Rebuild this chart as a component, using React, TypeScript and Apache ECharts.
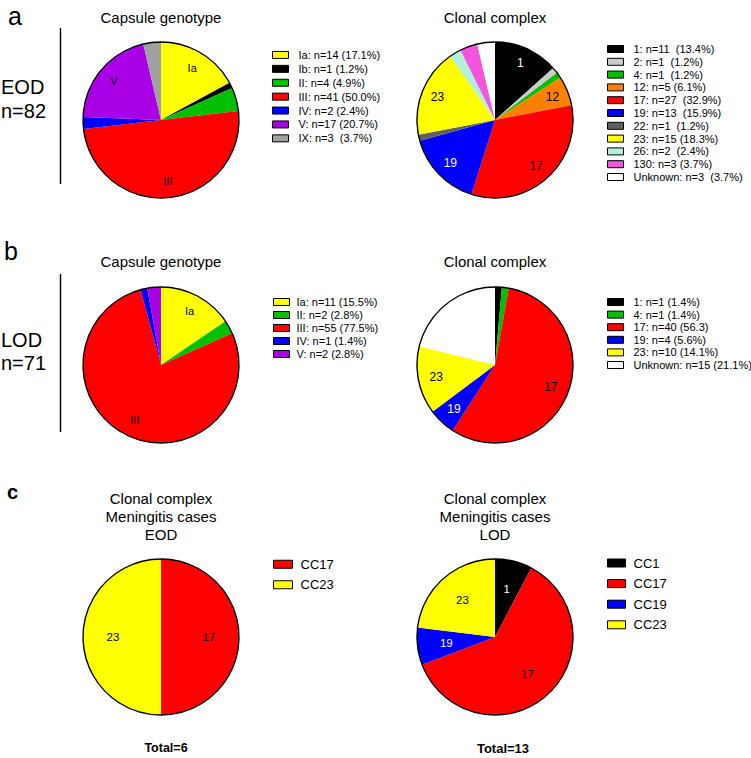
import React, { useEffect, useRef } from "react";
import * as echarts from "echarts";

// ---------- Data ----------
// Panel a: EOD (n=82)
const eodGenotypeLegend = ["Ia: n=14 (17.1%)", "Ib: n=1 (1.2%)", "II: n=4 (4.9%)", "III: n=41 (50.0%)", "IV: n=2 (2.4%)", "V: n=17 (20.7%)", "IX: n=3  (3.7%)"];
const eodGenotypeCounts = [14, 1, 4, 41, 2, 17, 3];
const eodGenotypeSliceLabels = ["Ia", "", "", "III", "", "V", ""];

const eodCCLegend = ["1: n=11  (13.4%)", "2: n=1  (1.2%)", "4: n=1  (1.2%)", "12: n=5 (6.1%)", "17: n=27  (32.9%)", "19: n=13  (15.9%)", "22: n=1  (1.2%)", "23: n=15 (18.3%)", "26: n=2  (2.4%)", "130: n=3 (3.7%)", "Unknown: n=3  (3.7%)"];
const eodCCCounts = [11, 1, 1, 5, 27, 13, 1, 15, 2, 3, 3];
const eodCCSliceLabels = ["1", "", "", "12", "17", "19", "", "23", "", "", ""];

// Panel b: LOD (n=71)
const lodGenotypeLegend = ["Ia: n=11 (15.5%)", "II: n=2 (2.8%)", "III: n=55 (77.5%)", "IV: n=1 (1.4%)", "V: n=2 (2.8%)"];
const lodGenotypeCounts = [11, 2, 55, 1, 2];
const lodGenotypeSliceLabels = ["Ia", "", "III", "", ""];

const lodCCLegend = ["1: n=1 (1.4%)", "4: n=1 (1.4%)", "17: n=40 (56.3)", "19: n=4 (5.6%)", "23: n=10 (14.1%)", "Unknown: n=15 (21.1%)"];
const lodCCCounts = [1, 1, 40, 4, 10, 15];
const lodCCSliceLabels = ["", "", "17", "19", "23", ""];

// Panel c: meningitis cases
const menEodLegend = ["CC17", "CC23"];
const menEodCounts = [3, 3];
const menEodSliceLabels = ["17", "23"];

const menLodLegend = ["CC1", "CC17", "CC19", "CC23"];
const menLodCounts = [1, 8, 1, 3];
const menLodSliceLabels = ["1", "17", "19", "23"];

// ---------- Styles ----------
const C = {
  yellow: "#ffff00",
  black: "#000000",
  green: "#00c000",
  red: "#ff0000",
  blue: "#0000ff",
  purple: "#a900e6",
  gray: "#a0a0a0",
  lightGray: "#cccccc",
  orange: "#ff8000",
  darkGray: "#5f5f5f",
  aqua: "#b2f0dc",
  magenta: "#f455dc",
  white: "#ffffff",
};
const eodGenotypeColors = [C.yellow, C.black, C.green, C.red, C.blue, C.purple, C.gray];
const eodCCColors = [C.black, C.lightGray, C.green, C.orange, C.red, C.blue, C.darkGray, C.yellow, C.aqua, C.magenta, C.white];
const lodGenotypeColors = [C.yellow, C.green, C.red, C.blue, C.purple];
const lodCCColors = [C.black, C.green, C.red, C.blue, C.yellow, C.white];
const menEodColors = [C.red, C.yellow];
const menLodColors = [C.black, C.red, C.blue, C.yellow];

const FONT = "Liberation Sans, Arial, Helvetica, sans-serif";
const R = 78;

function makePie(
  center: [number, number],
  counts: number[],
  names: string[],
  sliceLabels: string[],
  colors: string[],
  labelRing: [number, number],
  labelSize: number
) {
  const main = {
    type: "pie",
    center,
    radius: [0, R],
    startAngle: 90,
    clockwise: true,
    silent: true,
    avoidLabelOverlap: false,
    label: { show: false },
    labelLine: { show: false },
    emphasis: { disabled: true },
    z: 2,
    data: counts.map((v, i) => ({ value: v, name: names[i], itemStyle: { color: colors[i] } })),
  };
  const labels = {
    type: "pie",
    center,
    radius: labelRing,
    startAngle: 90,
    clockwise: true,
    silent: true,
    avoidLabelOverlap: false,
    labelLine: { show: false },
    emphasis: { disabled: true },
    itemStyle: { color: "transparent", borderWidth: 0 },
    z: 3,
    label: {
      show: true,
      position: "inside",
      formatter: (p: any) => p.data.lbl,
      fontSize: labelSize,
      fontFamily: FONT,
    },
    data: counts.map((v, i) => ({
      value: v,
      name: "lbl_" + sliceLabels[i] + "_" + i,
      lbl: sliceLabels[i],
      label: {
        color: colors[i] === C.black || colors[i] === C.blue ? "#ffffff" : "#000000",
      },
    })),
  };
  const outline = {
    type: "pie",
    center,
    radius: [0, R],
    silent: true,
    label: { show: false },
    labelLine: { show: false },
    emphasis: { disabled: true },
    itemStyle: { color: "transparent", borderColor: "#000", borderWidth: 1.4 },
    z: 4,
    data: [{ value: 1, name: "outline" }],
  };
  return [main, labels, outline];
}

function makeLegend(
  names: string[],
  left: number,
  top: number,
  step: number,
  fontSize: number,
  iw: number,
  ih: number,
  textPad: number
) {
  return {
    orient: "vertical",
    left,
    top,
    padding: 0,
    itemGap: 0,
    itemWidth: iw,
    itemHeight: ih,
    icon: "rect",
    selectedMode: false,
    itemStyle: { borderColor: "#000", borderWidth: 1 },
    formatter: (name: string) => "{t|" + name + "}",
    textStyle: {
      fontSize,
      lineHeight: step,
      color: "#000",
      fontFamily: FONT,
      rich: {
        t: {
          fontSize,
          lineHeight: step,
          color: "#000",
          fontFamily: FONT,
          padding: [0, 0, 0, textPad],
        },
      },
    },
    data: names,
  };
}

function txt(text: string, x: number, y: number, size: number, align = "center", weight = "normal") {
  return {
    type: "text",
    x,
    y,
    style: {
      text,
      fontSize: size,
      fontFamily: FONT,
      fontWeight: weight,
      fill: "#000",
      textAlign: align,
      textVerticalAlign: "middle",
    },
  };
}

export default function App() {
  const ref = useRef<HTMLDivElement>(null);
  useEffect(() => {
    document.body.style.margin = "0";
    if (!ref.current) return;
    const chart = echarts.init(ref.current, null, { renderer: "svg" });
    const series = [
      ...makePie([161, 120], eodGenotypeCounts, eodGenotypeLegend, eodGenotypeSliceLabels, eodGenotypeColors, [38, R], 11),
      ...makePie([495, 120], eodCCCounts, eodCCLegend, eodCCSliceLabels, eodCCColors, [40, R], 12),
      ...makePie([161, 365], lodGenotypeCounts, lodGenotypeLegend, lodGenotypeSliceLabels, lodGenotypeColors, [38, R], 11),
      ...makePie([495, 365], lodCCCounts, lodCCLegend, lodCCSliceLabels, lodCCColors, [36, R], 12),
      ...makePie([161, 637], menEodCounts, menEodLegend, menEodSliceLabels, menEodColors, [12, R], 11.5),
      ...makePie([495, 637], menLodCounts, menLodLegend, menLodSliceLabels, menLodColors, [14, R], 11.5),
    ];
    const legend = [
      makeLegend(eodGenotypeLegend, 272, 48, 13.9, 11, 16, 7, 5),
      makeLegend(eodCCLegend, 607, 42.6, 12.8, 11, 16, 7, 5),
      makeLegend(lodGenotypeLegend, 273, 295.5, 13, 11, 16, 7, 2),
      makeLegend(lodCCLegend, 607, 295.7, 12.6, 11, 16, 7, 5),
      makeLegend(menEodLegend, 273, 554, 20.5, 13, 19, 8, 3),
      makeLegend(menLodLegend, 607, 552.7, 20.6, 13, 18, 8, 3),
    ];
    const graphic = [
      txt("a", 8, 16, 25, "left"),
      txt("b", 4, 251, 25, "left"),
      txt("c", 7, 492, 20, "left", "bold"),
      txt("EOD", 1, 87, 20, "left"),
      txt("n=82", 1, 111, 20, "left"),
      txt("LOD", 1, 340, 20, "left"),
      txt("n=71", 1, 363, 20, "left"),
      txt("Capsule genotype", 161, 17, 15),
      txt("Clonal complex", 495, 17, 15),
      txt("Capsule genotype", 161, 261, 15),
      txt("Clonal complex", 495, 261, 15),
      txt("Clonal complex", 161, 498, 15),
      txt("Meningitis cases", 161, 516, 15),
      txt("EOD", 161, 534, 15),
      txt("Clonal complex", 495, 498, 15),
      txt("Meningitis cases", 495, 516, 15),
      txt("LOD", 495, 534, 15),
      txt("Total=6", 166, 748, 12.5, "center", "bold"),
      txt("Total=13", 503, 748, 13, "center", "bold"),
      { type: "line", shape: { x1: 60.5, y1: 28, x2: 60.5, y2: 184 }, style: { stroke: "#000", lineWidth: 1.4 } },
      { type: "line", shape: { x1: 60.5, y1: 274, x2: 60.5, y2: 432 }, style: { stroke: "#000", lineWidth: 1.4 } },
    ];
    chart.setOption({
      animation: false,
      backgroundColor: "#ffffff",
      textStyle: { fontFamily: FONT },
      legend,
      series,
      graphic,
    });
    return () => chart.dispose();
  }, []);
  return <div ref={ref} style={{ width: 751, height: 758 }} />;
}
